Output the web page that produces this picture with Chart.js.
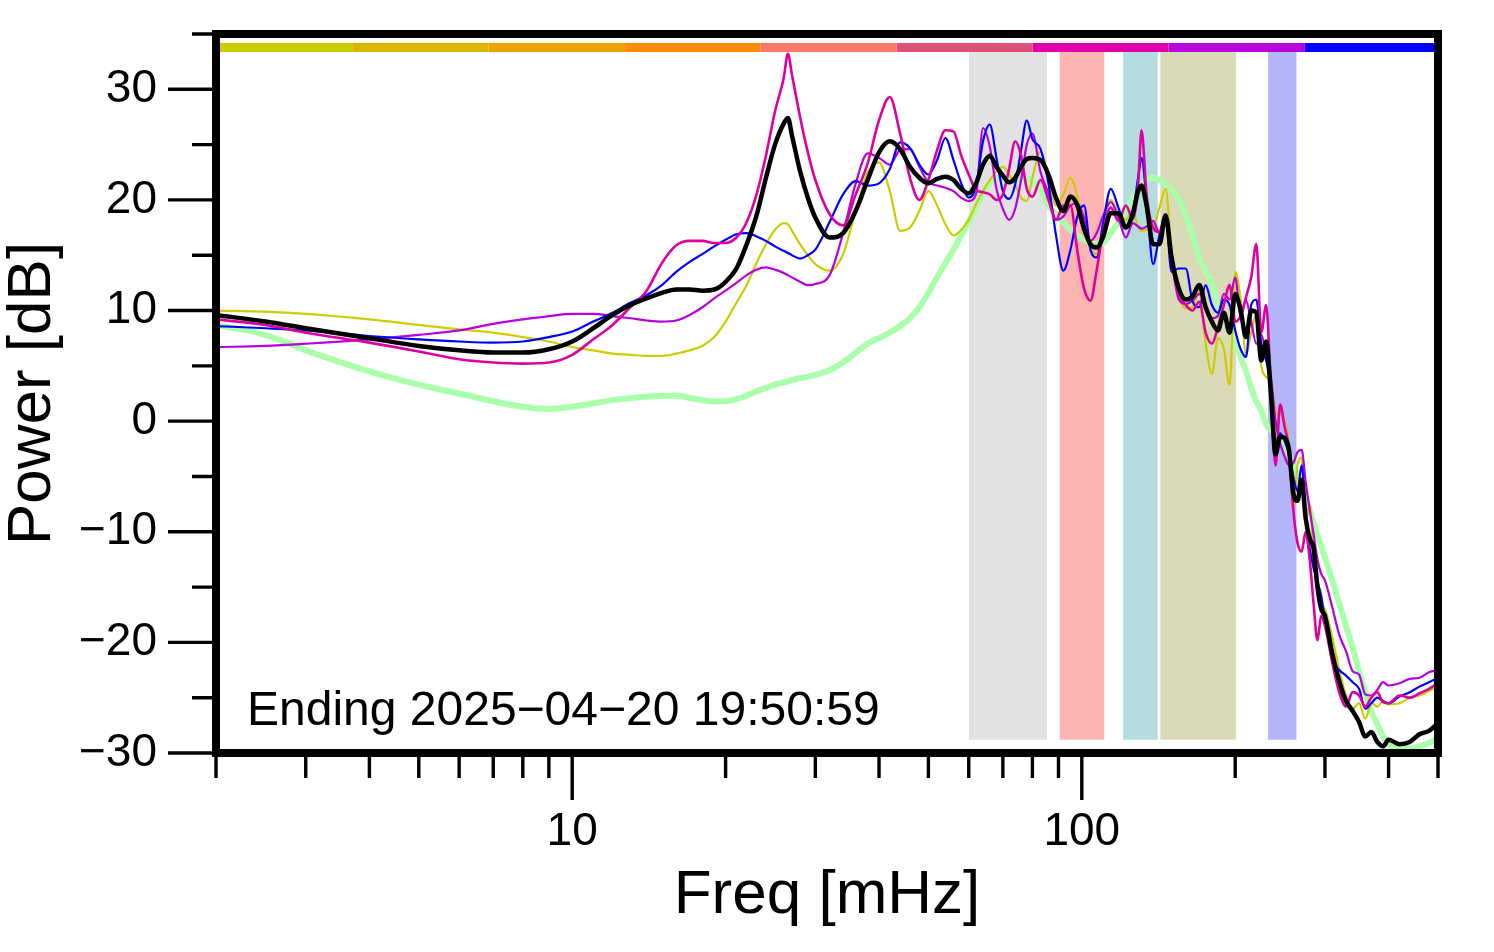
<!DOCTYPE html>
<html>
<head>
<meta charset="utf-8">
<title>Power spectrum</title>
<script src="https://cdn.jsdelivr.net/npm/chart.js@4.4.0/dist/chart.umd.min.js"></script>
<style>
  html, body { margin: 0; padding: 0; background: #fff; }
  #wrap { width: 1494px; height: 952px; }
</style>
</head>
<body>
<div id="wrap"><canvas id="psd" width="1494" height="952"></canvas></div>
<script>
// frequencies in mHz (shared by every trace)
const freqs = [2, 2.5, 3, 4, 5, 6, 7, 8, 9, 10,
  11, 12, 13, 14, 15, 16, 17, 18, 19, 20, 21, 22, 23, 24, 25,
  26, 26.5, 27, 28, 29, 30,
  32, 34, 36, 38, 40, 42, 44, 46, 48, 50, 52, 54, 56, 58, 60, 62, 64, 66, 68, 70, 72, 74, 76, 78, 80,
  83, 86, 89, 92, 95, 98, 101, 104, 107, 110,
  114, 118, 122, 126, 129, 131, 134, 138, 142, 146,
  150, 155, 160, 165, 170, 175, 180, 185, 190, 195,
  200, 205, 210, 215, 220, 225, 230, 235, 240, 245,
  250, 255, 260, 265, 270, 275, 280, 285, 290, 295,
  300,
  310, 320, 330, 340, 350, 360, 370, 380, 390, 400,
  420, 440, 460, 480, 500];

// power in dB
const avgPower = [9.6, 9.0, 8.4, 7.5, 6.8, 6.4, 6.2, 6.2, 6.5, 7.2,
  8.4, 9.6, 10.5, 11.1, 11.6, 11.9, 11.9, 11.8, 11.9, 12.6, 13.8, 16.0, 18.6, 22.0, 25.0,
  26.9, 27.4, 25.8, 22.6, 20.2, 18.4,
  16.6, 17.0, 19.0, 21.8, 24.3, 25.3, 24.6, 23.0, 22.0, 21.5, 21.9, 22.1, 21.8, 21.0, 20.6, 21.5, 23.2, 24.0, 23.0, 22.2, 21.6, 22.0, 23.0, 23.7, 23.8,
  23.6, 22.3, 20.2, 19.0, 20.3, 19.5, 17.4, 16.0, 15.7, 16.6,
  18.8, 18.8, 17.5, 18.8, 20.8, 21.3, 19.5, 16.0, 16.0, 18.6,
  14.8, 12.0, 11.0, 11.3, 12.3, 10.3, 9.0, 8.2, 9.8, 8.0,
  11.5, 10.0, 7.6, 10.0, 9.8, 5.5, 7.2, 2.5, -3.0, -1.4,
  -1.5, -2.6, -6.5, -7.2, -5.3, -8.8, -10.6, -11.5, -15.0, -17.0,
  -17.6,
  -21.0, -23.5, -25.3, -26.2, -27.2, -28.5, -28.1, -29.0, -29.4, -28.8,
  -29.2, -29.0, -28.3, -28.0, -27.3];

const magentaPower = [9.2, 8.7, 8.0, 7.1, 6.3, 5.6, 5.3, 5.2, 5.3, 6.0,
  7.4, 8.7, 10.3, 11.8, 14.3, 15.9, 16.3, 16.3, 16.1, 16.1, 16.6, 18.0, 20.5, 24.0, 28.0,
  31.0, 33.2, 31.3, 27.5, 24.3, 21.8,
  18.7, 17.7, 20.5, 23.3, 27.2, 29.3, 26.0, 22.0, 20.0, 21.8, 24.5, 26.3, 26.2, 24.0, 22.3, 20.9, 20.7, 20.5, 20.0, 20.5, 22.8, 25.3, 24.0, 21.0, 20.3,
  21.8, 20.0, 18.2, 19.5, 19.5, 15.4, 12.0, 10.9, 13.7, 17.0,
  19.3, 18.1, 19.5, 18.3, 21.5, 26.3, 20.5, 17.5, 17.1, 18.7,
  14.5, 11.5, 10.5, 10.0, 10.8, 8.0, 7.0, 8.5, 10.5, 12.3,
  9.0, 9.5, 11.2, 13.0, 16.0, 8.0, 10.5, 3.0, -4.0, 1.5,
  -0.5, -2.5, -8.0, -11.0, -11.8, -10.0, -12.5, -16.5, -19.8, -17.6,
  -18.5,
  -21.8, -24.5, -25.8, -24.5, -24.8, -25.8, -25.0, -24.5, -25.4, -25.5,
  -24.8, -25.0, -24.6, -24.2, -23.7];

const bluePower = [8.6, 8.4, 8.2, 7.7, 7.4, 7.2, 7.1, 7.2, 7.6, 8.1,
  9.0, 9.8, 10.7, 11.4, 12.3, 13.5, 14.4, 15.1, 15.8, 16.4, 16.9, 17.0, 16.7, 16.3, 15.8,
  15.4, 15.2, 15.0, 14.7, 15.0, 15.5,
  18.0, 20.5, 21.7, 21.3, 21.5, 22.8, 25.2, 24.7, 23.2, 22.3, 23.6, 25.6, 23.6, 21.5, 20.2, 21.2, 25.3, 26.8, 23.8, 20.8, 20.1, 21.4, 24.5, 27.2, 25.5,
  24.6, 21.5, 16.8, 13.6, 15.5, 18.5, 19.5, 15.5, 14.8, 17.8,
  21.0, 19.3, 17.6, 19.0, 22.0, 23.8, 20.0, 14.2, 16.8, 18.5,
  13.5, 13.8, 13.8, 10.8, 10.3, 12.3, 10.5, 9.8, 11.0, 10.5,
  8.2, 6.5, 5.8, 10.5, 11.0, 7.0, 5.5, 3.0, -2.0, -1.1,
  -1.8, -3.0, -5.0, -6.3, -4.0, -8.5, -11.5, -13.3, -14.5, -15.8,
  -18.0,
  -21.5, -22.5, -23.0, -23.6, -24.2, -26.0, -25.5, -25.0, -25.3, -25.5,
  -24.9, -24.5, -24.0, -23.6, -23.2];

const purplePower = [6.7, 6.8, 7.0, 7.4, 7.8, 8.2, 8.8, 9.2, 9.5, 9.7,
  9.7, 9.5, 9.3, 9.1, 9.0, 9.1, 9.6, 10.3, 11.1, 11.8, 12.5, 13.2, 13.7, 13.9, 13.7,
  13.4, 13.2, 13.0, 12.6, 12.3, 12.4,
  13.2, 17.0, 21.5, 24.2, 23.8, 23.2, 24.5, 24.6, 23.0, 21.6, 21.3, 21.1, 20.8, 20.2, 19.9, 20.5, 26.5, 24.8, 21.0, 19.2, 18.2, 19.2, 21.8, 25.0, 26.0,
  22.5, 20.6, 18.2, 18.5, 19.5, 19.7, 18.4, 16.3, 17.0, 18.5,
  19.8, 18.4, 16.6, 17.9, 17.6, 17.4, 17.6, 18.1, 17.0, 17.8,
  14.5, 11.0, 10.6, 10.9, 11.5, 10.2, 9.3, 9.5, 11.5, 11.0,
  13.0, 9.5, 10.9, 9.0, 7.0, 7.8, 6.0, 4.0, 0.0, -2.0,
  -3.2, -4.0, -3.8, -2.8, -2.6, -5.5, -8.0, -10.2, -12.5, -13.8,
  -14.4,
  -16.8, -19.3, -20.8, -22.6, -22.9, -24.7, -24.8, -24.3, -23.6, -23.9,
  -23.7, -23.3, -23.2, -22.7, -22.5];

const yellowPower = [10.0, 9.9, 9.7, 9.2, 8.7, 8.3, 8.0, 7.6, 7.2, 6.7,
  6.4, 6.1, 6.0, 5.9, 5.9, 6.1, 6.4, 6.8, 7.6, 9.0, 10.7, 12.3, 14.3, 16.0, 17.3,
  17.9, 17.8, 17.2, 16.0, 15.0, 14.2,
  13.6, 15.1, 19.0, 22.5, 23.4, 20.8, 17.2, 17.5, 19.0, 20.8, 19.5, 17.8, 16.8, 17.3, 18.2, 19.6, 20.8, 21.8, 22.6, 23.0, 22.3, 21.4, 20.2, 19.9, 22.0,
  24.4, 22.0, 19.5, 20.5, 22.0, 20.3, 17.5, 15.6, 15.1, 17.8,
  20.0, 18.8, 18.2, 19.0, 17.5, 17.2, 17.3, 17.5, 19.3, 21.0,
  15.5, 11.5, 10.2, 10.3, 11.8, 7.0, 4.3, 7.5, 6.5, 3.3,
  13.5, 11.0, 6.0, 8.0, 9.7, 5.0, 4.0, 3.5, 1.0, 0.5,
  0.0, -2.0, -8.0, -4.0, -3.3, -9.0, -7.5, -12.0, -15.0, -16.5,
  -17.0,
  -19.5, -22.5, -24.8, -26.0, -25.5, -26.9, -25.5, -25.8, -25.3, -25.6,
  -25.5, -25.0, -24.8, -24.4, -24.0];

const greenPower = [8.7, 7.8, 6.4, 4.5, 3.3, 2.5, 1.8, 1.3, 1.1, 1.3,
  1.6, 1.9, 2.1, 2.2, 2.3, 2.3, 2.1, 1.9, 1.8, 1.8, 2.0, 2.3, 2.7, 3.0, 3.3,
  3.5, 3.6, 3.7, 3.9, 4.0, 4.2,
  4.6, 5.3, 6.2, 7.0, 7.5, 8.0, 8.6, 9.3, 10.3, 11.6, 13.0, 14.3, 15.5, 16.8, 18.0, 19.4, 20.6, 21.5, 22.0, 22.1, 21.9, 21.8, 21.8, 21.8, 21.7,
  21.0, 19.5, 18.7, 18.0, 17.3, 16.8, 16.4, 16.1, 16.0, 16.1,
  17.0, 18.0, 19.0, 20.2, 21.0, 21.5, 21.9, 22.0, 21.8, 21.4,
  21.0, 20.0, 18.6, 16.8, 14.7, 13.5, 12.4, 10.5, 9.4, 8.5,
  7.2, 5.8, 4.5, 3.0, 1.8, 1.0, -0.3, -0.8, -1.0, -1.5,
  -2.0, -3.0, -4.0, -4.9, -5.8, -6.9, -8.0, -9.2, -10.3, -11.3,
  -12.3,
  -14.4, -16.5, -18.5, -20.5, -22.6, -24.5, -26.3, -27.4, -28.5, -29.2,
  -29.6, -29.6, -29.4, -29.1, -28.7];

// shaded frequency bands (mHz)
const bandLo = [60, 90.4, 120.5, 142.5, 232];
const bandHi = [85.5, 110.8, 141, 201, 264];
const bandColors = ['#e2e2e2', '#ffb4b4', '#b4dcdf', '#dadbb6', '#b4b4fb'];

// segmented colour bar along the top (mHz edges)
const colorBarEdges = [2, 3.7, 6.85, 12.7, 23.4, 43.3, 80.1, 148, 274, 500];
const colorBarColors = ['#cccc00', '#ddb400', '#eea200', '#ff8c00', '#ff7a66',
  '#dd5078', '#dd00aa', '#b800dd', '#0000ff'];

// axis ticks
const xTickValues = [2, 3, 4, 5, 6, 7, 8, 9, 10, 20, 30, 40, 50, 60, 70, 80, 90, 100, 200, 300, 400, 500];
const xLabelled = [10, 100];
const yTickValues = [-30, -25, -20, -15, -10, -5, 0, 5, 10, 15, 20, 25, 30, 35];

const endingLabel = 'Ending 2025−04−20 19:50:59';

const FONT = '"Liberation Sans", Arial, Helvetica, sans-serif';

const traces = [
  {values: avgPower,     color: '#000000', width: 4.5, order: 1},
  {values: magentaPower, color: '#dd00a0', width: 2.6, order: 2},
  {values: bluePower,    color: '#0000ff', width: 2.2, order: 3},
  {values: purplePower,  color: '#b800dd', width: 2.2, order: 4},
  {values: yellowPower,  color: '#cccc00', width: 2.2, order: 5},
  {values: greenPower,   color: '#aaffaa', width: 6,   order: 6}
];

const toPoints = vals => freqs.map((f, i) => ({x: f, y: vals[i]}));

let datasets = traces.map(t => ({
  data: toPoints(t.values),
  borderColor: t.color,
  borderWidth: t.width,
  pointRadius: 0,
  fill: false,
  cubicInterpolationMode: 'monotone',
  order: t.order
}));

// bands drawn as filled two-point lines
bandLo.forEach((lo, i) => {
  datasets.push({
    data: [{x: lo, y: 33.4}, {x: bandHi[i], y: 33.4}],
    borderColor: 'rgba(0,0,0,0)',
    borderWidth: 0,
    backgroundColor: bandColors[i],
    fill: {value: -28.8},
    pointRadius: 0,
    order: 20
  });
});

colorBarColors.forEach((c, i) => {
  datasets.push({
    data: [{x: colorBarEdges[i], y: 33.78}, {x: colorBarEdges[i + 1], y: 33.78}],
    borderColor: c,
    borderWidth: 9,
    borderCapStyle: 'butt',
    pointRadius: 0,
    fill: false,
    order: 15
  });
});

const frameAndTicks = {
  id: 'frameAndTicks',
  afterDraw(chart) {
    const {ctx, chartArea: a} = chart;
    const x = chart.scales.x, y = chart.scales.y;
    ctx.save();
    ctx.strokeStyle = '#000';
    ctx.lineWidth = 3.4;
    ctx.beginPath();
    x.ticks.forEach(t => {
      const px = x.getPixelForValue(t.value);
      const len = xLabelled.includes(t.value) ? 47 : 25;
      ctx.moveTo(px, a.bottom);
      ctx.lineTo(px, a.bottom + len);
    });
    y.ticks.forEach(t => {
      const py = y.getPixelForValue(t.value);
      const len = t.value % 10 === 0 ? 48 : 24;
      ctx.moveTo(a.left, py);
      ctx.lineTo(a.left - len, py);
    });
    ctx.stroke();
    ctx.lineWidth = 8;
    ctx.strokeRect(a.left, a.top, a.right - a.left, a.bottom - a.top);
    ctx.font = '48px ' + FONT;
    ctx.fillStyle = '#000';
    ctx.textBaseline = 'alphabetic';
    ctx.textAlign = 'left';
    ctx.fillText(endingLabel, a.left + 31, a.bottom - 28);
    ctx.restore();
  }
};

new Chart(document.getElementById('psd'), {
  type: 'line',
  data: {datasets},
  options: {
    responsive: false,
    animation: false,
    devicePixelRatio: 1,
    layout: {padding: {top: 34, right: 56, bottom: 0, left: 0}},
    plugins: {legend: {display: false}, tooltip: {enabled: false}},
    scales: {
      x: {
        type: 'logarithmic',
        min: 2,
        max: 500,
        afterBuildTicks: s => { s.ticks = xTickValues.map(v => ({value: v})); },
        afterFit: s => { s.height = 199; s.paddingLeft = 0; s.paddingRight = 0; },
        grid: {display: false, drawTicks: false},
        border: {display: false},
        ticks: {
          autoSkip: false, maxRotation: 0, minRotation: 0, padding: 52,
          color: '#000', font: {family: FONT, size: 46},
          callback: v => xLabelled.includes(v) ? String(v) : ''
        },
        title: {
          display: true, text: 'Freq [mHz]', color: '#000',
          font: {family: FONT, size: 62}, padding: {top: 0, bottom: 19}
        }
      },
      y: {
        min: -30,
        max: 35,
        afterBuildTicks: s => { s.ticks = yTickValues.map(v => ({value: v})); },
        afterFit: s => { s.width = 216; s.paddingTop = 0; s.paddingBottom = 0; },
        grid: {display: false, drawTicks: false},
        border: {display: false},
        ticks: {
          autoSkip: false, padding: 59,
          color: '#000', font: {family: FONT, size: 46},
          callback: v => v % 10 === 0 ? String(v).replace('-', '\u2212') : ''
        },
        title: {
          display: true, text: 'Power [dB]', color: '#000',
          font: {family: FONT, size: 62}, padding: {top: -4, bottom: 0}
        }
      }
    }
  },
  plugins: [frameAndTicks]
});
</script>
</body>
</html>
